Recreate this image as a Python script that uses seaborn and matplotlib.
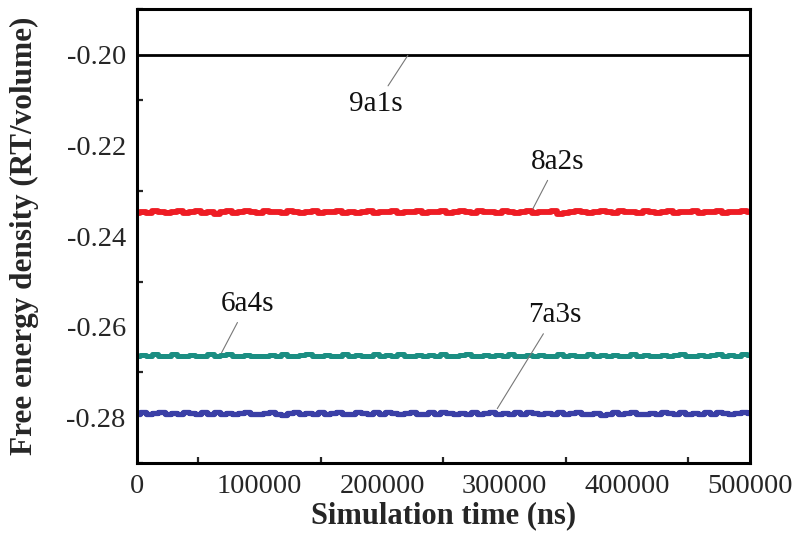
import matplotlib
matplotlib.use("Agg")
import matplotlib.pyplot as plt
import numpy as np
import pandas as pd
import seaborn as sns
from matplotlib.ticker import MultipleLocator, AutoMinorLocator

# simulation time grid (ns)
TIME_NS = list(range(0, 500001, 5000))
TIME_FLAT = list(range(0, 500001, 50000))

# free energy density (RT/volume)
E_9A1S = [-0.2000, -0.2000, -0.2000, -0.2000, -0.2000, -0.2000,
          -0.2000, -0.2000, -0.2000, -0.2000, -0.2000]

E_8A2S = [
    -0.2348, -0.2346, -0.2348, -0.2345, -0.2347, -0.2349, -0.2346, -0.2344, -0.2348, -0.2347,
    -0.2345, -0.2348, -0.2346, -0.2351, -0.2347, -0.2345, -0.2348, -0.2346, -0.2344, -0.2347,
    -0.2348, -0.2345, -0.2347, -0.2346, -0.2348, -0.2344, -0.2347, -0.2349, -0.2346, -0.2345,
    -0.2348, -0.2346, -0.2347, -0.2344, -0.2348, -0.2346, -0.2350, -0.2347, -0.2345, -0.2348,
    -0.2346, -0.2347, -0.2344, -0.2348, -0.2346, -0.2347, -0.2345, -0.2349, -0.2346, -0.2347,
    -0.2345, -0.2348, -0.2346, -0.2344, -0.2347, -0.2348, -0.2345, -0.2347, -0.2346, -0.2348,
    -0.2345, -0.2347, -0.2349, -0.2346, -0.2344, -0.2348, -0.2346, -0.2347, -0.2345, -0.2352,
    -0.2348, -0.2346, -0.2345, -0.2347, -0.2348, -0.2346, -0.2344, -0.2347, -0.2348, -0.2345,
    -0.2347, -0.2346, -0.2348, -0.2345, -0.2347, -0.2349, -0.2346, -0.2345, -0.2348, -0.2346,
    -0.2347, -0.2344, -0.2348, -0.2346, -0.2347, -0.2345, -0.2348, -0.2346, -0.2347, -0.2345,
    -0.2347,
]

E_6A4S = [
    -0.2664, -0.2661, -0.2664, -0.2660, -0.2663, -0.2664, -0.2659, -0.2663, -0.2664, -0.2662,
    -0.2664, -0.2663, -0.2660, -0.2664, -0.2662, -0.2659, -0.2663, -0.2664, -0.2661, -0.2664,
    -0.2663, -0.2664, -0.2662, -0.2664, -0.2660, -0.2663, -0.2664, -0.2662, -0.2659, -0.2663,
    -0.2664, -0.2661, -0.2664, -0.2663, -0.2660, -0.2664, -0.2662, -0.2664, -0.2663, -0.2659,
    -0.2664, -0.2662, -0.2664, -0.2660, -0.2663, -0.2664, -0.2661, -0.2664, -0.2662, -0.2664,
    -0.2660, -0.2663, -0.2664, -0.2662, -0.2659, -0.2664, -0.2663, -0.2661, -0.2664, -0.2662,
    -0.2664, -0.2660, -0.2663, -0.2664, -0.2662, -0.2664, -0.2661, -0.2663, -0.2664, -0.2660,
    -0.2664, -0.2662, -0.2664, -0.2663, -0.2660, -0.2664, -0.2662, -0.2664, -0.2661, -0.2663,
    -0.2664, -0.2660, -0.2664, -0.2662, -0.2663, -0.2664, -0.2661, -0.2664, -0.2662, -0.2660,
    -0.2664, -0.2663, -0.2661, -0.2664, -0.2662, -0.2660, -0.2664, -0.2661, -0.2663, -0.2660,
    -0.2661,
]

E_7A3S = [
    -0.2791, -0.2788, -0.2792, -0.2789, -0.2787, -0.2792, -0.2789, -0.2791, -0.2787, -0.2790,
    -0.2792, -0.2788, -0.2791, -0.2787, -0.2792, -0.2789, -0.2792, -0.2790, -0.2787, -0.2791,
    -0.2792, -0.2789, -0.2787, -0.2791, -0.2793, -0.2790, -0.2788, -0.2792, -0.2789, -0.2791,
    -0.2787, -0.2792, -0.2790, -0.2788, -0.2792, -0.2791, -0.2787, -0.2790, -0.2792, -0.2788,
    -0.2791, -0.2787, -0.2790, -0.2792, -0.2789, -0.2787, -0.2791, -0.2792, -0.2788, -0.2791,
    -0.2787, -0.2790, -0.2792, -0.2789, -0.2791, -0.2788, -0.2792, -0.2790, -0.2787, -0.2791,
    -0.2789, -0.2792, -0.2788, -0.2791, -0.2787, -0.2790, -0.2792, -0.2789, -0.2791, -0.2788,
    -0.2792, -0.2790, -0.2787, -0.2791, -0.2792, -0.2789, -0.2793, -0.2791, -0.2788, -0.2792,
    -0.2790, -0.2787, -0.2791, -0.2792, -0.2789, -0.2791, -0.2787, -0.2790, -0.2792, -0.2788,
    -0.2791, -0.2789, -0.2792, -0.2788, -0.2791, -0.2787, -0.2790, -0.2792, -0.2789, -0.2788,
    -0.2790,
]

SERIES_COLORS = {
    "9a1s": "#000000",
    "8a2s": "#ee1c24",
    "6a4s": "#1b8e82",
    "7a3s": "#3a3fa6",
}

# label text position and the point on the curve each pointer goes to
LABEL_TEXT_XY = {
    "9a1s": (195000, -0.2110),
    "8a2s": (343000, -0.2236),
    "6a4s": (90000, -0.2549),
    "7a3s": (341000, -0.2574),
}
LABEL_TARGET_XY = {
    "9a1s": (221000, -0.2002),
    "8a2s": (323000, -0.2340),
    "6a4s": (69000, -0.2657),
    "7a3s": (294000, -0.2780),
}


def build_frame() -> pd.DataFrame:
    parts = [
        pd.DataFrame({"time": TIME_FLAT, "energy": E_9A1S, "system": "9a1s"}),
        pd.DataFrame({"time": TIME_NS, "energy": E_8A2S, "system": "8a2s"}),
        pd.DataFrame({"time": TIME_NS, "energy": E_6A4S, "system": "6a4s"}),
        pd.DataFrame({"time": TIME_NS, "energy": E_7A3S, "system": "7a3s"}),
    ]
    return pd.concat(parts, ignore_index=True)


def main() -> None:
    sns.set_style("white")
    plt.rcParams["font.family"] = ["Liberation Serif", "DejaVu Serif"]

    df = build_frame()

    fig = plt.figure(figsize=(8.01, 5.36), dpi=100)
    ax = fig.add_axes([0.171, 0.136, 0.765, 0.847])

    widths = {"9a1s": 2.0, "8a2s": 4.2, "6a4s": 3.6, "7a3s": 3.8}
    for name, sub in df.groupby("system", sort=False):
        sns.lineplot(data=sub, x="time", y="energy", color=SERIES_COLORS[name],
                     linewidth=widths[name], ax=ax, legend=False, estimator=None,
                     drawstyle="steps-mid")

    for name, (tx, ty) in LABEL_TEXT_XY.items():
        ax.annotate(name, xy=LABEL_TARGET_XY[name], xytext=(tx, ty),
                    ha="center", va="center", fontsize=21, color="#111111",
                    arrowprops=dict(arrowstyle="-", color="#777777", lw=0.8,
                                    shrinkA=2, shrinkB=0))

    ax.set_xlim(0, 500000)
    ax.set_ylim(-0.29, -0.19)
    ax.xaxis.set_major_locator(MultipleLocator(100000))
    ax.xaxis.set_minor_locator(AutoMinorLocator(2))
    ax.set_yticks([-0.28, -0.26, -0.24, -0.22, -0.20])
    ax.set_yticklabels(["-0.28", "-0.26", "-0.24", "-0.22", "-0.20"])
    ax.yaxis.set_minor_locator(MultipleLocator(0.01))

    ax.tick_params(axis="both", which="major", direction="in", length=6, width=1.8,
                   labelsize=20.5, top=False, right=False)
    ax.tick_params(axis="x", which="major", pad=8)
    ax.tick_params(axis="y", which="major", pad=8)
    ax.tick_params(axis="both", which="minor", direction="in", length=4, width=1.6,
                   top=False, right=False, left=True, bottom=True)
    for spine in ax.spines.values():
        spine.set_linewidth(2.2)
        spine.set_color("black")

    ax.set_xlabel("Simulation time (ns)", fontsize=22, fontweight="bold")
    ax.set_ylabel("Free energy density (RT/volume)", fontsize=22.5, fontweight="bold")
    ax.xaxis.set_label_coords(0.5, -0.084)
    ax.yaxis.set_label_coords(-0.160, 0.5)

    fig.savefig("out.png", dpi=100)
    plt.close(fig)


if __name__ == "__main__":
    main()
